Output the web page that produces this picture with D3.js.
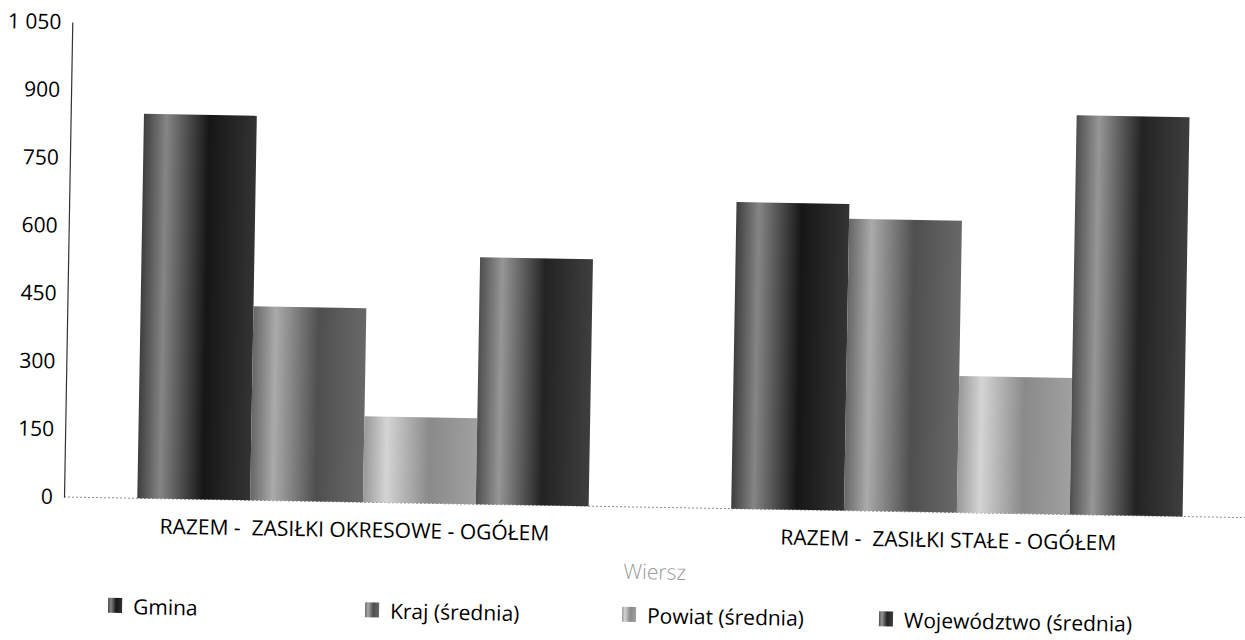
<!DOCTYPE html>
<html>
<head>
<meta charset="utf-8">
<script src="https://cdn.jsdelivr.net/npm/d3@7"></script>
<style>
  body { margin: 0; background: white; }
  text { font-family: 'Open Sans', sans-serif; white-space: pre; }
</style>
</head>
<body>
<div id="chart"></div>
<script>
const categories = ['RAZEM -  ZASIŁKI OKRESOWE - OGÓŁEM', 'RAZEM -  ZASIŁKI STAŁE - OGÓŁEM'];
const seriesNames = ['Gmina', 'Kraj (średnia)', 'Powiat (średnia)', 'Województwo (średnia)'];
const gmina = [850, 678];
const kraj = [429, 645];
const powiat = [190, 302];
const wojewodztwo = [546, 883];
const yTicks = [0, 150, 300, 450, 600, 750, 900, 1050];
const axisTitle = 'Wiersz';

const seriesValues = [gmina, kraj, powiat, wojewodztwo];
// grey cylinder shades: [edge, highlight, dark core, right edge]
const shades = [
  ['#3e3e3e', '#858585', '#161616', '#333333'],
  ['#666666', '#aaaaaa', '#4f4f4f', '#686868'],
  ['#989898', '#d4d4d4', '#8a8a8a', '#a0a0a0'],
  ['#4e4e4e', '#969696', '#232323', '#3e3e3e']
];

const width = 1245;
const height = 640;

const svg = d3.select('#chart')
  .append('svg')
  .attr('width', width)
  .attr('height', height);

const defs = svg.append('defs');
shades.forEach((s, i) => {
  const g = defs.append('linearGradient')
    .attr('id', 'grad' + i)
    .attr('x1', '0%').attr('x2', '100%')
    .attr('y1', '0%').attr('y2', '0%');
  [[0, s[0]], [0.2, s[1]], [0.58, s[2]], [1, s[3]]].forEach(([o, c]) => {
    g.append('stop').attr('offset', o).attr('stop-color', c);
  });
});

// the scanned page is tilted a little, so the whole drawing is turned by 1 degree
const root = svg.append('g').attr('transform', 'rotate(1, 64, 497)');

const x0 = d3.scaleBand()
  .domain(categories)
  .range([66, 1254])
  .paddingInner(0.24)
  .paddingOuter(0.12);

const x1 = d3.scaleBand()
  .domain(seriesNames)
  .range([0, x0.bandwidth()]);

const y = d3.scaleLinear()
  .domain([0, 1050])
  .range([497, 22]);

const fmt = d3.formatLocale({ thousands: ' ', grouping: [3], decimal: ',', currency: ['', ''] }).format(',d');

// baseline
root.append('line')
  .attr('x1', 64).attr('x2', 1260)
  .attr('y1', y(0)).attr('y2', y(0))
  .attr('stroke', '#8a8a8a')
  .attr('stroke-dasharray', '2,2');

// y axis
const yAxis = root.append('g')
  .attr('transform', 'translate(64,0)')
  .call(d3.axisLeft(y).tickValues(yTicks).tickFormat(fmt).tickSize(0).tickPadding(11));
yAxis.select('.domain').attr('stroke', '#333').attr('stroke-width', 1.2);
yAxis.selectAll('text')
  .attr('font-size', 21)
  .attr('fill', '#000')
  .style('font-family', "'Open Sans', sans-serif");

// bars
const groups = root.selectAll('g.group')
  .data(categories)
  .enter()
  .append('g')
  .attr('class', 'group')
  .attr('transform', d => `translate(${x0(d)},0)`);

groups.selectAll('rect')
  .data((d, ci) => seriesNames.map((s, si) => ({ s, si, v: seriesValues[si][ci] })))
  .enter()
  .append('rect')
  .attr('x', d => x1(d.s))
  .attr('width', x1.bandwidth())
  .attr('y', d => y(d.v))
  .attr('height', d => y(0) - y(d.v))
  .attr('fill', d => `url(#grad${d.si})`);

// category labels
root.selectAll('text.cat')
  .data(categories)
  .enter()
  .append('text')
  .attr('class', 'cat')
  .attr('x', d => x0(d) + x0.bandwidth() / 2 - 8)
  .attr('y', 524)
  .attr('text-anchor', 'middle')
  .attr('dominant-baseline', 'central')
  .attr('font-size', 21)
  .attr('fill', '#000')
  .text(d => d);

// axis title
root.append('text')
  .attr('x', 656)
  .attr('y', 561)
  .attr('text-anchor', 'middle')
  .attr('dominant-baseline', 'central')
  .attr('font-size', 21)
  .attr('font-weight', 300)
  .attr('fill', '#999')
  .text(axisTitle);

// legend
const legend = root.selectAll('g.legend')
  .data(seriesNames)
  .enter()
  .append('g')
  .attr('class', 'legend')
  .attr('transform', (d, i) => `translate(${110 + i * 257},605)`);

legend.append('rect')
  .attr('x', 0).attr('y', -8)
  .attr('width', 14).attr('height', 15)
  .attr('fill', (d, i) => `url(#grad${i})`);

legend.append('text')
  .attr('x', 25)
  .attr('y', 0)
  .attr('dominant-baseline', 'central')
  .attr('font-size', 21)
  .attr('fill', '#000')
  .text(d => d);
</script>
</body>
</html>
